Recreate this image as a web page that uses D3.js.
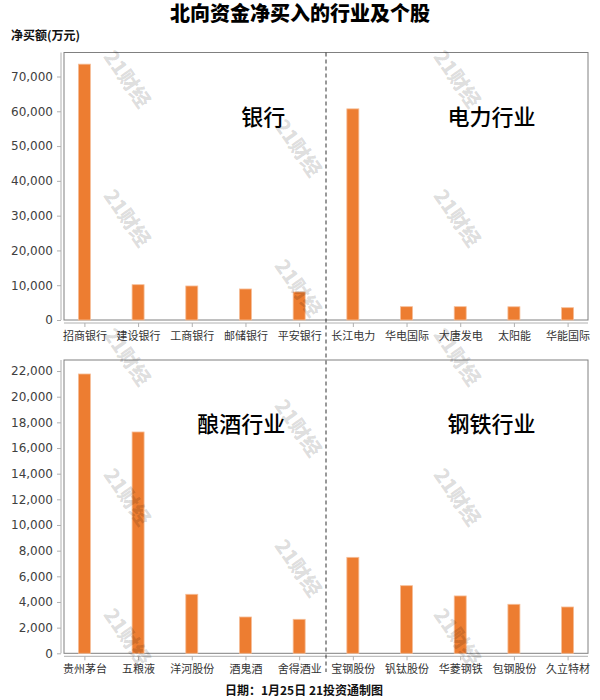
<!DOCTYPE html>
<html><head><meta charset="utf-8">
<script src="https://cdn.jsdelivr.net/npm/d3@7"></script>
<style>
html,body{margin:0;padding:0;background:#fff;}
svg{display:block;}
</style></head>
<body>
<script>
const titleText = "北向资金净买入的行业及个股";
const unitLabel = "净买额(万元)";
const footerText = "日期：1月25日 21投资通制图";
const watermarkText = "21财经";

const topCategories = ["招商银行","建设银行","工商银行","邮储银行","平安银行","长江电力","华电国际","大唐发电","太阳能","华能国际"];
const topValues = [73550, 10150, 9780, 8920, 8050, 60700, 3830, 3830, 3800, 3540];
const topGroups = ["银行","电力行业"];
const topTicks = [0,10000,20000,30000,40000,50000,60000,70000];
const topMax = 76900;

const bottomCategories = ["贵州茅台","五粮液","洋河股份","酒鬼酒","舍得酒业","宝钢股份","钒钛股份","华菱钢铁","包钢股份","久立特材"];
const bottomValues = [21770, 17250, 4600, 2830, 2650, 7480, 5270, 4470, 3820, 3610];
const bottomGroups = ["酿酒行业","钢铁行业"];
const bottomTicks = [0,2000,4000,6000,8000,10000,12000,14000,16000,18000,20000,22000];
const bottomMax = 22860;

const W = 600, H = 700;
const svg = d3.select("body").append("svg").attr("width", W).attr("height", H);
const CJK = "'Noto Sans CJK SC', 'DejaVu Sans', sans-serif";
const NUM = "'DejaVu Sans', 'Noto Sans CJK SC', sans-serif";

svg.append("text").attr("x", 300).attr("y", 20.5).attr("text-anchor", "middle")
  .style("font-family", "'DejaVu Sans', 'Noto Sans CJK SC', sans-serif")
  .style("font-size", "20px").style("font-weight", 900)
  .attr("fill", "#000").text(titleText);
svg.append("text").attr("x", 11).attr("y", 40)
  .style("font-family", CJK).style("font-size", "12px").style("font-weight", 700)
  .attr("fill", "#111").text(unitLabel);

const left = 64, right = 588;

function panel(cats, vals, groups, ticks, ymax, top, bottom) {
  const x = d3.scalePoint().domain(cats).range([left, right]).padding(0.38);
  const y = d3.scaleLinear().domain([0, ymax]).range([bottom, top]);
  const g = svg.append("g");

  // frame
  g.append("rect").attr("x", left).attr("y", top).attr("width", right - left).attr("height", bottom - top)
    .attr("fill", "#fff").attr("stroke", "#808080").attr("stroke-width", 1);

  // y axis
  const ya = g.append("g").attr("transform", `translate(${left - 3},0)`)
    .call(d3.axisLeft(y).tickValues(ticks).tickFormat(d3.format(",")).tickSize(4).tickPadding(4));
  ya.select(".domain").attr("stroke", "#b0b0b0").attr("d", `M0,${top}V${bottom}`);
  ya.selectAll(".tick line").attr("stroke", "#b0b0b0");
  ya.selectAll("text").style("font-family", NUM).style("font-size", "12px").attr("fill", "#404040");

  // x axis
  const xa = g.append("g").attr("transform", `translate(0,${bottom + 3})`)
    .call(d3.axisBottom(x).tickSize(4).tickPadding(5));
  xa.select(".domain").attr("stroke", "#b0b0b0").attr("d", `M${left},0H${right}`);
  xa.selectAll(".tick line").attr("stroke", "#b0b0b0");
  xa.selectAll("text").style("font-family", CJK).style("font-size", "11px").attr("fill", "#333");

  // bars
  const bw = 12;
  g.selectAll("rect.bar").data(vals).enter().append("rect").attr("class", "bar")
    .attr("x", (d, i) => x(cats[i]) - bw / 2)
    .attr("y", d => y(d))
    .attr("width", bw)
    .attr("height", d => y(0) - y(d))
    .attr("fill", "#ED7D31").attr("stroke", "#F6BE98").attr("stroke-width", 0.8);

  // group labels
  const mid = (x(cats[4]) + x(cats[5])) / 2;
  const labelX = [x(cats[4]) - 14, x(cats[9]) - 32];
  groups.forEach((t, i) => {
    g.append("text").attr("x", labelX[i]).attr("y", top + 72).attr("text-anchor", "end")
      .style("font-family", CJK).style("font-size", "22px").style("font-weight", 500)
      .attr("fill", "#000").text(t);
  });
  return mid;
}

const midTop = panel(topCategories, topValues, topGroups, topTicks, topMax, 52.5, 320);
panel(bottomCategories, bottomValues, bottomGroups, bottomTicks, bottomMax, 360, 653.3);

// divider
svg.append("line").attr("x1", midTop).attr("x2", midTop).attr("y1", 52.5).attr("y2", 672)
  .attr("stroke", "#333").attr("stroke-width", 1).attr("stroke-dasharray", "4,3");

// footer
svg.append("text").attr("x", 304).attr("y", 695).attr("text-anchor", "middle")
  .style("font-family", CJK).style("font-size", "12px").style("font-weight", 700)
  .attr("fill", "#111").text(footerText);

// watermarks
const wmCols = [127, 298, 457];
const wmRowsA = [79, 218, 357, 497, 637];
const wmRowsB = [148, 288, 428, 568];
const wm = svg.append("g").attr("pointer-events", "none");
wmCols.forEach((cx, ci) => {
  const rows = ci === 1 ? wmRowsB : wmRowsA;
  rows.forEach(cy => {
    wm.append("text").attr("transform", `translate(${cx},${cy}) rotate(55)`)
      .attr("text-anchor", "middle").attr("dy", "0.35em")
      .style("font-family", CJK).style("font-size", "20px").style("font-weight", 900)
      .attr("fill", "#000").attr("fill-opacity", 0.14).text(watermarkText);
  });
});
</script>
</body></html>
